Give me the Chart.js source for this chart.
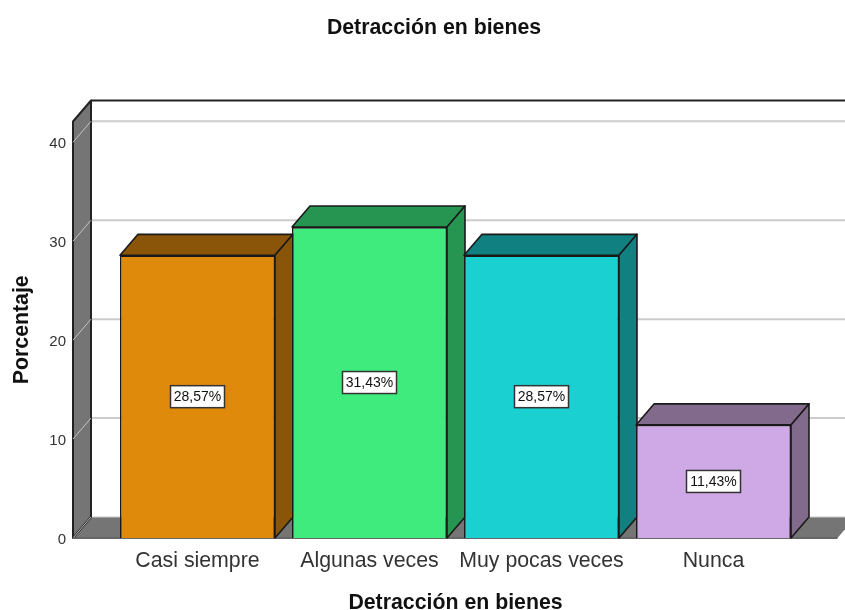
<!DOCTYPE html>
<html>
<head>
<meta charset="utf-8">
<title>Detracción en bienes</title>
<script src="https://cdn.jsdelivr.net/npm/chart.js@4"></script>
<style>
    html, body { margin: 0; padding: 0; background: #fff; }
    canvas { display: block; }
</style>
</head>
<body>
<canvas id="detraccionChart" width="845" height="610"></canvas>
<script>
var categorias = ['Casi siempre', 'Algunas veces', 'Muy pocas veces', 'Nunca'];
var porcentajes = [28.57, 31.43, 28.57, 11.43];
var yTicks = [0, 10, 20, 30, 40];
var yMax = 42.1;

var coloresFrente = ['#e08a0c', '#40eb7e', '#1bd0d0', '#cfa9e6'];
var coloresLado = ['#8a5508', '#279552', '#118080', '#826a8c'];

// desplazamiento de la profundidad 3D
var dx = 18;
var dy = -21;

function poligono(ctx, puntos, relleno, borde, grosor) {
    ctx.beginPath();
    ctx.moveTo(puntos[0][0], puntos[0][1]);
    for (var i = 1; i < puntos.length; i++) {
        ctx.lineTo(puntos[i][0], puntos[i][1]);
    }
    ctx.closePath();
    ctx.fillStyle = relleno;
    ctx.fill();
    if (borde) {
        ctx.strokeStyle = borde;
        ctx.lineWidth = grosor || 1.6;
        ctx.lineJoin = 'round';
        ctx.stroke();
    }
}

var caja3d = {
    id: 'caja3d',
    afterLayout: function(chart) {
        // el titulo no esta centrado en el canvas
        chart.titleBlock.left += 68.5;
    },
    beforeDatasetsDraw: function(chart) {
        var ctx = chart.ctx;
        var y = chart.scales.y;
        var xIzq = chart.chartArea.left - 38.5;
        var xDer = chart.chartArea.right + 38;
        var base = y.getPixelForValue(0);
        var tope = y.getPixelForValue(yMax);

        ctx.save();
        // pared del fondo
        ctx.fillStyle = '#ffffff';
        ctx.fillRect(xIzq + dx, tope + dy, xDer - xIzq, base - tope);

        // piso
        poligono(ctx, [[xIzq, base], [xIzq + dx, base + dy], [xDer + dx, base + dy], [xDer, base]], '#757575');

        // lineas de cuadricula
        yTicks.forEach(function(v) {
            var py = y.getPixelForValue(v);
            ctx.beginPath();
            ctx.moveTo(xIzq + dx, py + dy);
            ctx.lineTo(xDer + dx, py + dy);
            ctx.strokeStyle = '#cccccc';
            ctx.lineWidth = v > 0 ? 2 : 1;
            ctx.stroke();
        });

        // pared izquierda
        poligono(ctx, [[xIzq, base], [xIzq + dx, base + dy], [xIzq + dx, tope + dy], [xIzq, tope]], '#757575', '#222222', 2);
        yTicks.forEach(function(v) {
            var py = y.getPixelForValue(v);
            ctx.beginPath();
            ctx.moveTo(xIzq, py);
            ctx.lineTo(xIzq + dx, py + dy);
            ctx.strokeStyle = '#c4c4c4';
            ctx.lineWidth = 1;
            ctx.stroke();
        });

        // borde superior y linea base
        ctx.beginPath();
        ctx.moveTo(xIzq + dx, tope + dy);
        ctx.lineTo(xDer + dx, tope + dy);
        ctx.strokeStyle = '#222222';
        ctx.lineWidth = 2;
        ctx.stroke();

        ctx.beginPath();
        ctx.moveTo(xIzq, base);
        ctx.lineTo(xDer, base);
        ctx.strokeStyle = '#666666';
        ctx.lineWidth = 2;
        ctx.stroke();

        // caras superior y lateral de cada barra
        chart.getDatasetMeta(0).data.forEach(function(barra, i) {
            var izq = barra.x - barra.width / 2;
            var der = barra.x + barra.width / 2;
            var arriba = barra.y;
            poligono(ctx, [[izq, arriba], [izq + dx, arriba + dy], [der + dx, arriba + dy], [der, arriba]], coloresLado[i], '#1a1a1a');
            poligono(ctx, [[der, arriba], [der + dx, arriba + dy], [der + dx, barra.base + dy], [der, barra.base]], coloresLado[i], '#1a1a1a');
        });
        ctx.restore();
    },
    afterDatasetsDraw: function(chart) {
        var ctx = chart.ctx;
        ctx.save();
        ctx.font = '14px "Liberation Sans", Arial, sans-serif';
        ctx.textAlign = 'center';
        ctx.textBaseline = 'middle';
        chart.getDatasetMeta(0).data.forEach(function(barra, i) {
            var texto = porcentajes[i].toFixed(2).replace('.', ',') + '%';
            var medio = (barra.y + barra.base) / 2;
            var ancho = 54;
            var alto = 22;
            ctx.fillStyle = '#ffffff';
            ctx.fillRect(barra.x - ancho / 2, medio - alto / 2, ancho, alto);
            ctx.strokeStyle = '#333333';
            ctx.lineWidth = 1.5;
            ctx.strokeRect(barra.x - ancho / 2, medio - alto / 2, ancho, alto);
            ctx.fillStyle = '#111111';
            ctx.fillText(texto, barra.x, medio + 0.5);
        });
        ctx.restore();
    }
};

var ctx = document.getElementById('detraccionChart').getContext('2d');
var detraccionChart = new Chart(ctx, {
    type: 'bar',
    data: {
        labels: categorias,
        datasets: [{
            label: 'Porcentaje',
            data: porcentajes,
            backgroundColor: coloresFrente,
            borderColor: '#1a1a1a',
            borderWidth: 1.6,
            barPercentage: 155 / 172,
            categoryPercentage: 1
        }]
    },
    options: {
        responsive: false,
        animation: false,
        layout: {
            padding: { left: 0, right: 45.5, top: 0, bottom: 0 }
        },
        scales: {
            x: {
                grid: { display: false },
                border: { display: false },
                afterFit: function(scale) {
                    scale.height = 72;
                },
                ticks: {
                    color: '#333333',
                    padding: 2,
                    maxRotation: 0,
                    font: { family: '"Liberation Sans", Arial, sans-serif', size: 21.3 }
                },
                title: {
                    display: true,
                    text: 'Detracción en bienes',
                    color: '#111111',
                    padding: { top: 0, bottom: -4 },
                    font: { family: '"Liberation Sans", Arial, sans-serif', size: 21.3, weight: 'bold', lineHeight: 1 }
                }
            },
            y: {
                min: 0,
                max: yMax,
                grid: { display: false },
                border: { display: false },
                afterFit: function(scale) {
                    scale.width = 111.5;
                },
                afterBuildTicks: function(scale) {
                    scale.ticks = yTicks.map(function(v) {
                        return { value: v };
                    });
                },
                ticks: {
                    color: '#333333',
                    padding: 37.5,
                    labelOffset: 2,
                    font: { family: '"Liberation Sans", Arial, sans-serif', size: 15 }
                },
                title: {
                    display: true,
                    text: 'Porcentaje',
                    color: '#111111',
                    padding: { top: 11, bottom: 0 },
                    font: { family: '"Liberation Sans", Arial, sans-serif', size: 21.3, weight: 'bold', lineHeight: 1 }
                }
            }
        },
        plugins: {
            legend: { display: false },
            tooltip: { enabled: false },
            title: {
                display: true,
                text: 'Detracción en bienes',
                color: '#111111',
                padding: { top: 15, bottom: 80.3 },
                font: { family: '"Liberation Sans", Arial, sans-serif', size: 21.3, weight: 'bold', lineHeight: 1.23 }
            }
        }
    },
    plugins: [caja3d]
});
</script>
</body>
</html>
